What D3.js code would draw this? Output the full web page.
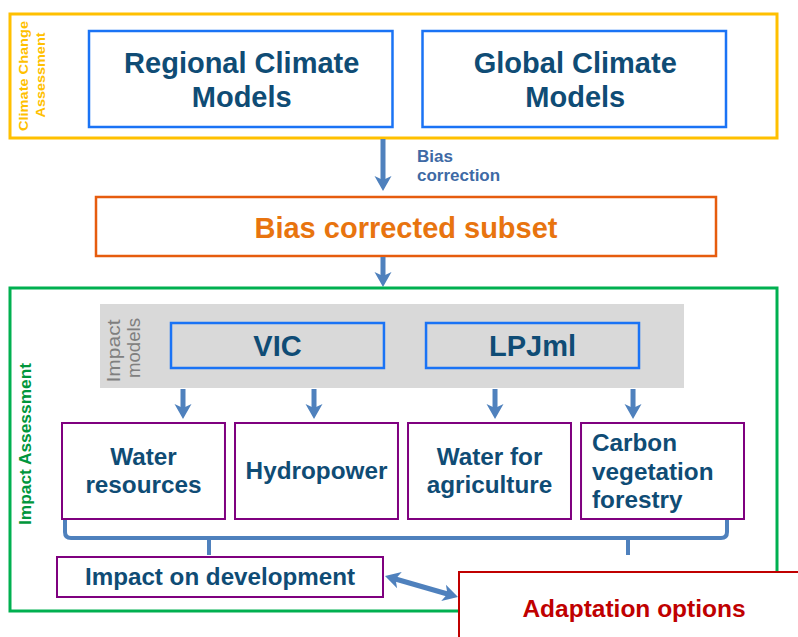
<!DOCTYPE html>
<html>
<head>
<meta charset="utf-8">
<script src="https://cdn.jsdelivr.net/npm/d3@7"></script>
<style>
  html, body { margin: 0; padding: 0; background: #fff; }
  svg { display: block; font-family: "Liberation Sans", Arial, sans-serif; }
</style>
</head>
<body>
<div id="chart"></div>
<script>
// labels of the diagram
const climateModels = [['Regional Climate', 'Models'], ['Global Climate', 'Models']];
const impactModels = ['VIC', 'LPJml'];
const sectors = [['Water', 'resources'], ['Hydropower'], ['Water for', 'agriculture'], ['Carbon', 'vegetation', 'forestry']];
const groupLabels = { climate: ['Climate Change', 'Assessment'], impact: 'Impact Assessment', models: ['Impact', 'models'] };
const biasLabel = ['Bias', 'correction'];
const subsetLabel = 'Bias corrected subset';
const developmentLabel = 'Impact on development';
const adaptationLabel = 'Adaptation options';

const width = 798;
const height = 637;

const col = {
  yellow: '#ffc000',
  blue: '#1a73f5',
  text: '#0f4c75',
  orange: '#e65c0e',
  orangeText: '#e8740f',
  green: '#00b050',
  greenText: '#00963c',
  purple: '#7f007f',
  red: '#c00000',
  gray: '#d9d9d9',
  grayText: '#7f7f7f',
  arrow: '#4f81bd',
  bias: '#3e6aa5',
};

const svg = d3.select('#chart')
  .append('svg')
  .attr('width', width)
  .attr('height', height)
  .attr('viewBox', `0 0 ${width} ${height}`);

svg.append('rect').attr('width', width).attr('height', height).attr('fill', '#fff');

function box(g, x, y, w, h, stroke, sw, fill) {
  return g.append('rect')
    .attr('x', x).attr('y', y).attr('width', w).attr('height', h)
    .attr('fill', fill || '#fff')
    .attr('stroke', stroke)
    .attr('stroke-width', sw);
}

function lines(g, list, x, y0, dy, size, color, anchor) {
  const t = g.append('text')
    .attr('font-size', size)
    .attr('font-weight', 'bold')
    .attr('fill', color)
    .attr('text-anchor', anchor || 'middle');
  list.forEach((s, i) => {
    t.append('tspan').attr('x', x).attr('y', y0 + i * dy).text(s);
  });
  return t;
}

function vlabel(g, s, x, cy, size, color, len, weight) {
  g.append('text')
    .attr('transform', `translate(${x},${cy}) rotate(-90)`)
    .attr('text-anchor', 'middle')
    .attr('font-size', size)
    .attr('font-weight', weight || 'bold')
    .attr('fill', color)
    .attr('textLength', len)
    .attr('lengthAdjust', 'spacingAndGlyphs')
    .text(s);
}

// arrow with a notched head at the end (and optionally at the start)
function arrow(g, x1, y1, x2, y2, both) {
  const hl = 15, hw = 8.5, notch = 4;
  const dx = x2 - x1, dy = y2 - y1, L = Math.hypot(dx, dy);
  const ux = dx / L, uy = dy / L, px = -uy, py = ux;
  const head = (tx, ty, sx) => {
    const bx = tx - sx * ux * hl, by = ty - sx * uy * hl;
    const nx = tx - sx * ux * (hl - notch), ny = ty - sx * uy * (hl - notch);
    return `M${tx},${ty}L${bx + px * hw},${by + py * hw}L${nx},${ny}L${bx - px * hw},${by - py * hw}Z`;
  };
  const s0 = both ? hl - notch - 1 : 0;
  g.append('line')
    .attr('x1', x1 + ux * s0).attr('y1', y1 + uy * s0)
    .attr('x2', x2 - ux * (hl - notch - 1)).attr('y2', y2 - uy * (hl - notch - 1))
    .attr('stroke', col.arrow).attr('stroke-width', 5);
  g.append('path').attr('d', head(x2, y2, 1)).attr('fill', col.arrow);
  if (both) g.append('path').attr('d', head(x1, y1, -1)).attr('fill', col.arrow);
}

const g = svg.append('g');

// ---- climate change assessment ----
box(g, 10, 14, 767, 124, col.yellow, 3);
vlabel(g, groupLabels.climate[0], 28, 76, 13.5, col.yellow, 110);
vlabel(g, groupLabels.climate[1], 45, 75, 13.5, col.yellow, 85);

const xClimate = d3.scaleBand().domain(d3.range(climateModels.length)).range([89, 726]).paddingInner(0.09);
climateModels.forEach((d, i) => {
  box(g, xClimate(i), 31, xClimate.bandwidth(), 96, col.blue, 2.5);
  lines(g, d, xClimate(i) + xClimate.bandwidth() / 2 + 1, 73, 34, 29, col.text);
});

// bias correction
arrow(g, 383, 139, 383, 191);
lines(g, biasLabel, 417, 162, 19, 17, col.bias, 'start');

box(g, 96, 197, 620, 59, col.orange, 2.5);
lines(g, [subsetLabel], 406, 238, 0, 29, col.orangeText);

arrow(g, 383, 257, 383, 287);

// ---- impact assessment ----
box(g, 10, 288, 767, 323, col.green, 3);
vlabel(g, groupLabels.impact, 31, 444, 16.5, col.greenText, 162);

g.append('rect').attr('x', 100).attr('y', 304).attr('width', 584).attr('height', 84).attr('fill', col.gray);
vlabel(g, groupLabels.models[0], 120, 351, 18, col.grayText, 63, 'normal');
vlabel(g, groupLabels.models[1], 140, 348, 18, col.grayText, 60, 'normal');

const xModels = d3.scaleBand().domain(impactModels).range([171, 639]).paddingInner(0.165);
impactModels.forEach(d => {
  box(g, xModels(d), 323, xModels.bandwidth(), 45, col.blue, 2.5, col.gray);
  lines(g, [d], xModels(d) + xModels.bandwidth() / 2, 356, 0, 29, col.text);
});

const xSectors = d3.scaleBand().domain(d3.range(sectors.length)).range([62, 744]).paddingInner(0.058);
const arrowDx = [121, 79, 87, 52];
sectors.forEach((d, i) => {
  const x0 = xSectors(i), w = xSectors.bandwidth();
  arrow(g, x0 + arrowDx[i], 389, x0 + arrowDx[i], 419);
  box(g, x0, 423, w, 96, col.purple, 2);
  if (d.length === 3) lines(g, d, x0 + 11, 451, 28.5, 24.3, col.text, 'start');
  else if (d.length === 2) lines(g, d, x0 + w / 2, 465, 28, 24.3, col.text);
  else lines(g, d, x0 + w / 2, 479, 0, 24.3, col.text);
});

// brace collecting the sectors
const r = 6, yb = 538;
g.append('path')
  .attr('d', `M65,520V${yb - r}Q65,${yb} ${65 + r},${yb}H${727 - r}Q727,${yb} 727,${yb - r}V520`)
  .attr('fill', 'none').attr('stroke', col.arrow).attr('stroke-width', 4);
[209, 628].forEach(x => {
  g.append('line').attr('x1', x).attr('x2', x).attr('y1', yb).attr('y2', 555)
    .attr('stroke', col.arrow).attr('stroke-width', 4);
});

box(g, 57, 557, 326, 40, col.purple, 2);
lines(g, [developmentLabel], 220, 585, 0, 24.2, col.text);

arrow(g, 385, 576, 458, 597, true);

// adaptation options
box(g, 459, 572, 360, 100, col.red, 2);
lines(g, [adaptationLabel], 634, 617, 0, 24.5, col.red);
</script>
</body>
</html>
